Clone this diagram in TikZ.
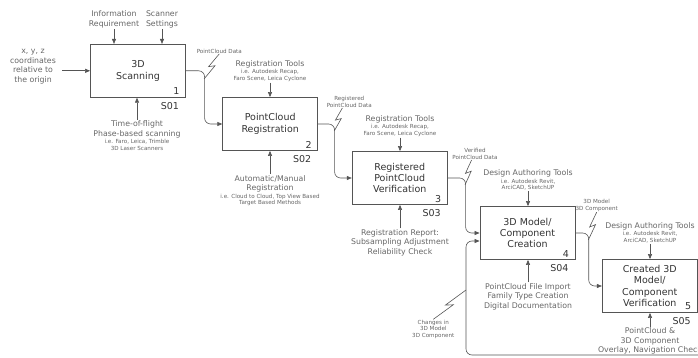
\documentclass[tikz,border=0pt]{standalone}
\usepackage{fontspec}
\setmainfont{DejaVu Sans}
\usepackage{tikz}
\usetikzlibrary{arrows.meta, calc}
\definecolor{boxline}{HTML}{555555}
\definecolor{boxtext}{HTML}{333333}
\definecolor{labeltext}{HTML}{666666}
\newcommand{\ssz}{\fontsize{5.6}{6.5}\selectfont}
\newcommand{\tunnel}[2]{\draw[wire] (#1) -- ($(#1)!.56!(#2)!2.5pt!-90:(#2)$) -- ($(#1)!.42!(#2)!2.5pt!90:(#2)$) -- (#2);}

\begin{document}
\begin{tikzpicture}[x=1pt, y=-1pt,
    box/.style={draw=boxline, line width=0.8pt, minimum width=95pt, minimum height=53pt,
      inner sep=0pt, align=center, font=\fontsize{9.5}{11.4}\selectfont, text=boxtext},
    num/.style={font=\fontsize{9.5}{11.4}\selectfont, text=boxtext, inner sep=0pt},
    ctrl/.style={align=center, font=\fontsize{7.8}{9.5}\selectfont, text=labeltext, inner sep=1pt},
    tag/.style={align=center, font=\ssz, text=labeltext, inner sep=0.5pt},
    wire/.style={draw=boxline, line width=0.6pt},
    arr/.style={wire, rounded corners=6pt, -{Triangle[length=5pt, width=4pt]}}]
  \useasboundingbox (0,0) rectangle (698,358);

  \node[box] (scan) at (138,70.8) {3D\\Scanning};
  \node[box] (reg) at (270.2,124) {PointCloud\\Registration};
  \node[box] (verif) at (399.7,178) {Registered\\PointCloud\\Verification};
  \node[box] (model) at (527.5,233) {3D Model/\\Component\\Creation};
  \node[box] (check) at (649.8,286) {Created 3D\\Model/\\Component\\Verification};

  \node[num] (n1) at ([shift={(-9.5,-6.3)}]scan.south east) {1};
  \node[num] (n2) at ([shift={(-9.5,-6.3)}]reg.south east) {2};
  \node[num] (n3) at ([shift={(-9.5,-6.3)}]verif.south east) {3};
  \node[num] (n4) at ([shift={(-9.5,-6.3)}]model.south east) {4};
  \node[num] (n5) at ([shift={(-9.5,-6.3)}]check.south east) {5};
  \node[num] (s1) at ([shift={(-16,8)}]scan.south east) {S01};
  \node[num] (s2) at ([shift={(-16,8)}]reg.south east) {S02};
  \node[num] (s3) at ([shift={(-16,8)}]verif.south east) {S03};
  \node[num] (s4) at ([shift={(-16,8)}]model.south east) {S04};
  \node[num] (s5) at ([shift={(-16,8)}]check.south east) {S05};

  \node[ctrl] (info) at (114,19.5) {Information\\Requirement};
  \node[ctrl] (settings) at (162,19.5) {Scanner\\Settings};
  \node[ctrl] (xyz) at (33,66.7) {x, y, z\\coordinates\\relative to\\the origin};
  \node[ctrl] (tof) at (137,135.5) {Time-of-flight\\Phase-based scanning\\[-2pt]{\ssz i.e. Faro, Leica, Trimble}\\[-3pt]{\ssz 3D Laser Scanners}};
  \node[ctrl] (tools1) at (270,70.8) {Registration Tools\\[-2pt]{\ssz i.e. Autodesk Recap,}\\[-3pt]{\ssz Faro Scene, Leica Cyclone}};
  \node[ctrl] (method) at (270,190.7) {Automatic/Manual\\Registration\\[-2pt]{\ssz i.e. Cloud to Cloud, Top View Based}\\[-3pt]{\ssz Target Based Methods}};
  \node[ctrl] (tools2) at (400,126) {Registration Tools\\[-2pt]{\ssz i.e. Autodesk Recap,}\\[-3pt]{\ssz Faro Scene, Leica Cyclone}};
  \node[ctrl] (report) at (400,242.8) {Registration Report:\\Subsampling Adjustment\\Reliability Check};
  \node[ctrl] (design1) at (528,180) {Design Authoring Tools\\[-2pt]{\ssz i.e. Autodesk Revit,}\\[-3pt]{\ssz ArciCAD, SketchUP}};
  \node[ctrl] (import) at (528,296.7) {PointCloud File Import\\Family Type Creation\\Digital Documentation};
  \node[ctrl] (design2) at (650,232.5) {Design Authoring Tools\\[-2pt]{\ssz i.e. Autodesk Revit,}\\[-3pt]{\ssz ArciCAD, SketchUP}};
  \node[ctrl] (overlay) at (650,341.3) {PointCloud \&\\3D Component\\Overlay, Navigation Check};

  \node[tag] (pcd) at (219.3,51) {PointCloud Data};
  \node[tag] (rpcd) at (349.3,102) {Registered\\PointCloud Data};
  \node[tag] (vpcd) at (475,154) {Verified\\PointCloud Data};
  \node[tag] (mdl) at (596.7,205.5) {3D Model\\3D Component};
  \node[tag] (chg) at (433.3,329.2) {Changes in\\3D Model\\3D Component};

  \draw[arr] (info.south) -- (info.south |- scan.north);
  \draw[arr] (settings.south) -- (settings.south |- scan.north);
  \draw[arr] ($(xyz.east |- scan.west)+(5,0)$) -- (scan.west);
  \draw[arr] (tof.north) -- (tof.north |- scan.south);
  \draw[arr] (tools1.south) -- (tools1.south |- reg.north);
  \draw[arr] (method.north) -- (method.north |- reg.south);
  \draw[arr] (tools2.south) -- (tools2.south |- verif.north);
  \draw[arr] (report.north) -- (report.north |- verif.south);
  \draw[arr] (design1.south) -- (design1.south |- model.north);
  \draw[arr] (import.north) -- (import.north |- model.south);
  \draw[arr] (design2.south) -- (design2.south |- check.north);
  \draw[arr] (overlay.north) -- (overlay.north |- check.south);

  \draw[arr] (scan.east) -- ++(18.7,0) |- (reg.west);
  \draw[arr] (reg.east) -- ++(16.5,0) |- (verif.west);
  \draw[arr] (verif.east) -- ++(18,0) |- (model.west);
  \draw[arr] (model.east) -- ++(13.3,0) |- (check.west);
  \coordinate (loop) at (466,355);
  \draw[arr] (check.east) -- ++(8,0) |- (loop) |- ([yshift=-8pt]model.west);

  \coordinate (j1) at (204,79);
  \coordinate (i2) at ($(rpcd.south)+(-7,0)$);
  \coordinate (j2) at (334.2,131);
  \coordinate (i3) at ($(vpcd.south)+(-3.5,0)$);
  \coordinate (j3) at (465,185);
  \coordinate (j4) at (588.3,240);
  \coordinate (j5) at (466,290);
  \tunnel{pcd.south}{j1}
  \tunnel{i2}{j2}
  \tunnel{i3}{j3}
  \tunnel{mdl.south}{j4}
  \tunnel{chg.north}{j5}
\end{tikzpicture}
\end{document}
